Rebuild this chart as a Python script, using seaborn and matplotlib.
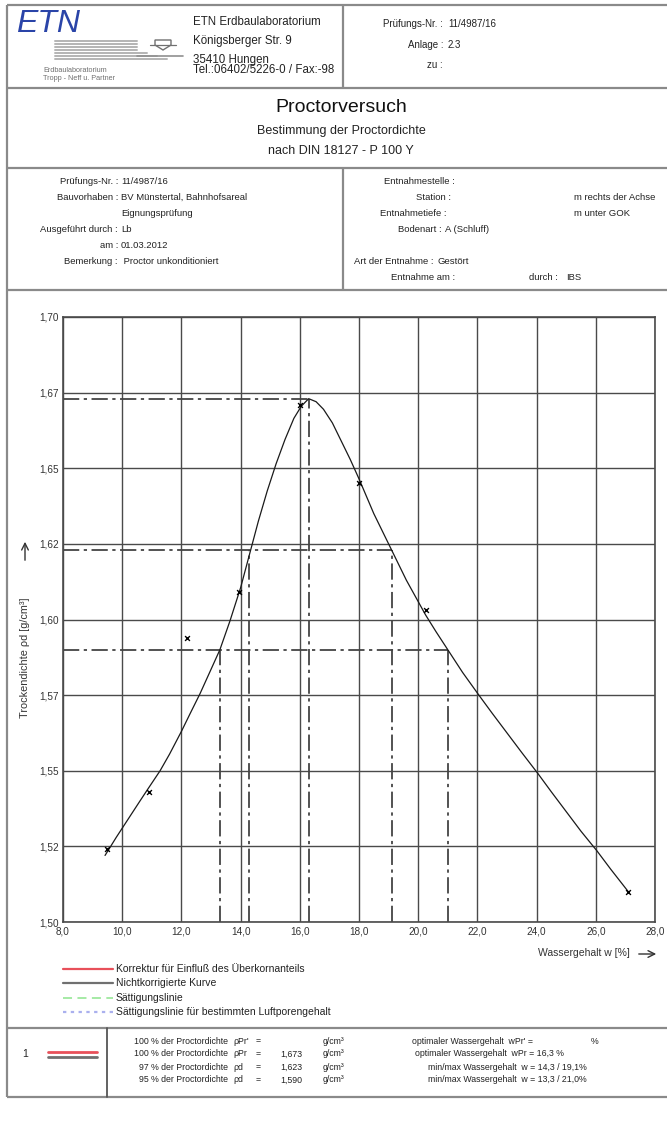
# proctor_plot.py
# Proctorversuch - Bestimmung der Proctordichte (Laborblatt nachgebaut)

import numpy as np
import pandas as pd
import matplotlib.pyplot as plt
import seaborn as sns

WATER = [9.5, 10.9, 12.2, 13.95, 16.0, 18.0, 20.25, 27.1]
DENSITY = [1.524, 1.543, 1.594, 1.609, 1.671, 1.645, 1.603, 1.510]

CURVE_W = [9.42, 9.8, 10.2, 10.6, 10.87, 11.28, 11.6, 12.0, 12.3, 12.63,
           13.0, 13.3, 13.64, 14.0, 14.3, 14.6, 14.9, 15.2, 15.5, 15.8,
           16.05, 16.3, 16.55, 16.8, 17.1, 17.4, 17.7, 18.0, 18.5, 19.1,
           19.6, 20.25, 20.6, 21.0, 21.5, 22.05, 22.5, 23.0, 23.5, 24.05,
           24.5, 25.0, 25.5, 26.04, 26.5, 27.1]
CURVE_RHO = [1.522, 1.528, 1.534, 1.540, 1.544, 1.550, 1.5555, 1.563, 1.569, 1.5755,
             1.5835, 1.590, 1.5995, 1.6105, 1.6215, 1.6325, 1.6425, 1.6515, 1.6595, 1.6665,
             1.6705, 1.673, 1.672, 1.6695, 1.665, 1.659, 1.653, 1.6465, 1.635, 1.623,
             1.613, 1.6015, 1.596, 1.590, 1.5825, 1.575, 1.569, 1.5625, 1.556, 1.549,
             1.543, 1.5365, 1.530, 1.5235, 1.5175, 1.510]

RHO_PR = 1.673
W_PR = 16.3
RHO_97 = 1.623
W_97 = [14.3, 19.1]
RHO_95 = 1.590
W_95 = [13.3, 21.0]

X_TICKS = [8, 10, 12, 14, 16, 18, 20, 22, 24, 26, 28]
Y_TICKS = [1.500, 1.525, 1.550, 1.575, 1.600, 1.625, 1.650, 1.675, 1.700]
Y_TICK_LABELS = ["1,50", "1,52", "1,55", "1,57", "1,60", "1,62", "1,65", "1,67", "1,70"]

LEGEND_LABELS = ["Korrektur für Einfluß des Überkornanteils",
                 "Nichtkorrigierte Kurve",
                 "Sättigungslinie",
                 "Sättigungslinie für bestimmten Luftporengehalt"]


def de(v, n):
    return f"{v:.{n}f}".replace(".", ",")


sns.set_theme(style="white")
plt.rcParams["font.family"] = ["Liberation Sans", "DejaVu Sans"]

W, H = 667, 1121
fig = plt.figure(figsize=(W / 100, H / 100), dpi=100)

# --- 2. Blattrahmen (Pixelkoordinaten) ---
page = fig.add_axes([0, 0, 1, 1])
page.set_xlim(0, W)
page.set_ylim(H, 0)
page.axis("off")

BORDER = dict(color="#8a8a8a", lw=1.6, solid_capstyle="butt")
for y in [5, 88, 168, 290, 1028, 1097]:
    page.plot([7, W], [y, y], **BORDER)
page.plot([7, 7], [5, 1097], **BORDER)
page.plot([343, 343], [5, 88], **BORDER)
page.plot([343, 343], [168, 290], **BORDER)
page.plot([107, 107], [1028, 1097], color="#555", lw=1.3)

# Logo
page.text(16, 24, "ETN", fontsize=23, style="italic", color="#2a44a8",
          ha="left", va="center")
for i, yy in enumerate(np.arange(41, 62, 3)):
    page.plot([55, 137 + max(0, i - 3) * 10], [yy, yy], color="#b4b4b4", lw=1.4)
page.plot([137, 183], [56, 56], color="#909090", lw=1.2)
page.fill([155, 171, 171, 163, 155], [40, 40, 45, 50, 45], facecolor="white",
          edgecolor="#707070", lw=1.0)
page.plot([150, 176], [45, 45], color="#707070", lw=0.9)
page.text(43, 70, "Erdbaulaboratorium", fontsize=5.2, color="#707070", va="center")
page.text(43, 79, "Tropp - Neff u. Partner", fontsize=5.2, color="#707070", va="center")

HDR = dict(fontsize=8.3, color="#222", va="center")
page.text(193, 22, "ETN Erdbaulaboratorium", **HDR)
page.text(193, 41, "Königsberger Str. 9", **HDR)
page.text(193, 60, "35410 Hungen", **HDR)
page.text(193, 70, "Tel.:06402/5226-0 / Fax:-98", **HDR)

for y, lab, val in [(24, "Prüfungs-Nr.", "11/4987/16"), (45, "Anlage", "2.3"), (65, "zu", "")]:
    page.text(443, y, lab + " :", ha="right", fontsize=7, color="#222", va="center")
    page.text(448, y, val, ha="left", fontsize=7, color="#222", va="center")

# Titel
page.text(341, 107, "Proctorversuch", fontsize=14, ha="center", va="center", color="#111")
page.text(341, 131, "Bestimmung der Proctordichte", fontsize=9, ha="center", va="center", color="#222")
page.text(341, 151, "nach DIN 18127 - P 100 Y", fontsize=9, ha="center", va="center", color="#222")

# Kopfdaten
INFO = dict(fontsize=6.8, color="#222", va="center")
left_rows = [(181, "Prüfungs-Nr.", "11/4987/16"),
             (197, "Bauvorhaben", "BV Münstertal, Bahnhofsareal"),
             (213, None, "Eignungsprüfung"),
             (229, "Ausgeführt durch", "Lb"),
             (245, "am", "01.03.2012"),
             (261, "Bemerkung", " Proctor unkonditioniert")]
for y, lab, val in left_rows:
    if lab:
        page.text(118, y, lab + " :", ha="right", **INFO)
    page.text(121, y, val, ha="left", **INFO)

right_rows = [(181, 455, "Entnahmestelle", ""),
              (197, 451, "Station", ""),
              (213, 447, "Entnahmetiefe", ""),
              (229, 442, "Bodenart", "A (Schluff)"),
              (261, 434, "Art der Entnahme", "Gestört"),
              (278, 455, "Entnahme am", "")]
for y, cx, lab, val in right_rows:
    page.text(cx, y, lab + " :", ha="right", **INFO)
    page.text(cx + 3, y, val, ha="left", **INFO)
page.text(574, 197, "m rechts der Achse", ha="left", **INFO)
page.text(574, 213, "m unter GOK", ha="left", **INFO)
page.text(558, 278, "durch :", ha="right", **INFO)
page.text(566, 278, "IBS", ha="left", **INFO)

# --- 3. Diagramm ---
x0, x1, y0, y1 = 63, 655, 317, 922
ax = fig.add_axes([x0 / W, 1 - y1 / H, (x1 - x0) / W, (y1 - y0) / H])

ref = dict(color="#444", lw=1.3, dashes=(9, 2.5, 1.8, 2.5))
ax.plot([8, W_PR], [RHO_PR, RHO_PR], **ref)
ax.plot([W_PR, W_PR], [1.5, RHO_PR], **ref)
ax.plot([8, W_97[1]], [RHO_97, RHO_97], **ref)
for w in W_97:
    ax.plot([w, w], [1.5, RHO_97], **ref)
ax.plot([8, W_95[1]], [RHO_95, RHO_95], **ref)
for w in W_95:
    ax.plot([w, w], [1.5, RHO_95], **ref)

curve = pd.DataFrame({"w": CURVE_W, "rho": CURVE_RHO})
sns.lineplot(data=curve, x="w", y="rho", sort=False, estimator=None,
             color="#1a1a1a", lw=0.9, ax=ax)
points = pd.DataFrame({"w": WATER, "rho": DENSITY})
sns.scatterplot(data=points, x="w", y="rho", marker="x", s=12, color="black",
                linewidth=1.0, ax=ax, zorder=5)

ax.set_xlim(8, 28)
ax.set_ylim(1.5, 1.7)
ax.set_xticks(X_TICKS)
ax.set_xticklabels([de(v, 1) for v in X_TICKS])
ax.set_yticks(Y_TICKS)
ax.set_yticklabels(Y_TICK_LABELS)
ax.tick_params(length=0, labelsize=7.2, colors="#333", pad=3)
ax.grid(True, color="#4a4a4a", lw=1.0)
ax.set_axisbelow(True)
for s in ax.spines.values():
    s.set_color("#4a4a4a")
    s.set_linewidth(1.2)
ax.set_xlabel("")
ax.set_ylabel("")

# Achsbeschriftungen
page.text(25, 658, "Trockendichte ρd [g/cm³]", rotation=90, ha="center", va="center",
          fontsize=7.8, color="#333")
page.annotate("", xy=(25, 539), xytext=(25, 563),
              arrowprops=dict(arrowstyle="->", color="#333", lw=1.0))
page.text(630, 953, "Wassergehalt w [%]", ha="right", va="center", fontsize=7.5, color="#333")
page.annotate("", xy=(659, 954), xytext=(636, 954),
              arrowprops=dict(arrowstyle="->", color="#333", lw=1.0))

# --- 4. Legende ---
leg_styles = [dict(color="#e8505a", lw=1.6),
              dict(color="#707070", lw=1.6),
              dict(color="#9ee89e", lw=1.3, dashes=(5, 3)),
              dict(color="#aab0ee", lw=1.6, dashes=(1.5, 2))]
for y, st, lab in zip([969, 983, 998, 1012], leg_styles, LEGEND_LABELS):
    page.plot([63, 113], [y, y], **st)
    page.text(116, y, lab, ha="left", va="center", fontsize=7.5, color="#222")

# --- 5. Ergebnistabelle ---
page.text(25, 1054, "1", ha="center", va="center", fontsize=7.5, color="#222")
page.plot([48, 97], [1052, 1052], color="#e8505a", lw=2.0)
page.plot([48, 97], [1056.5, 1056.5], color="#707070", lw=2.0)

TAB = dict(fontsize=6.3, color="#222", va="center")
rows = [(1041, "100 % der Proctordichte", "ρPr'", "", "optimaler Wassergehalt  wPr' =", 412),
        (1054, "100 % der Proctordichte", "ρPr", de(RHO_PR, 3), f"optimaler Wassergehalt  wPr = {de(W_PR, 1)} %", 415),
        (1067, "97 % der Proctordichte", "ρd", de(RHO_97, 3), f"min/max Wassergehalt  w = {de(W_97[0], 1)} / {de(W_97[1], 1)}%", 428),
        (1080, "95 % der Proctordichte", "ρd", de(RHO_95, 3), f"min/max Wassergehalt  w = {de(W_95[0], 1)} / {de(W_95[1], 1)}%", 428)]
for y, lab, sym, val, rtxt, rx in rows:
    page.text(228, y, lab, ha="right", **TAB)
    page.text(233, y, sym, ha="left", **TAB)
    page.text(256, y, "=", ha="left", **TAB)
    page.text(302, y, val, ha="right", **TAB)
    page.text(323, y, "g/cm³", ha="left", **TAB)
    page.text(rx, y, rtxt, ha="left", **TAB)
page.text(591, 1041, "%", ha="left", **TAB)

fig.savefig("out.png", dpi=100)
print("saved out.png")
